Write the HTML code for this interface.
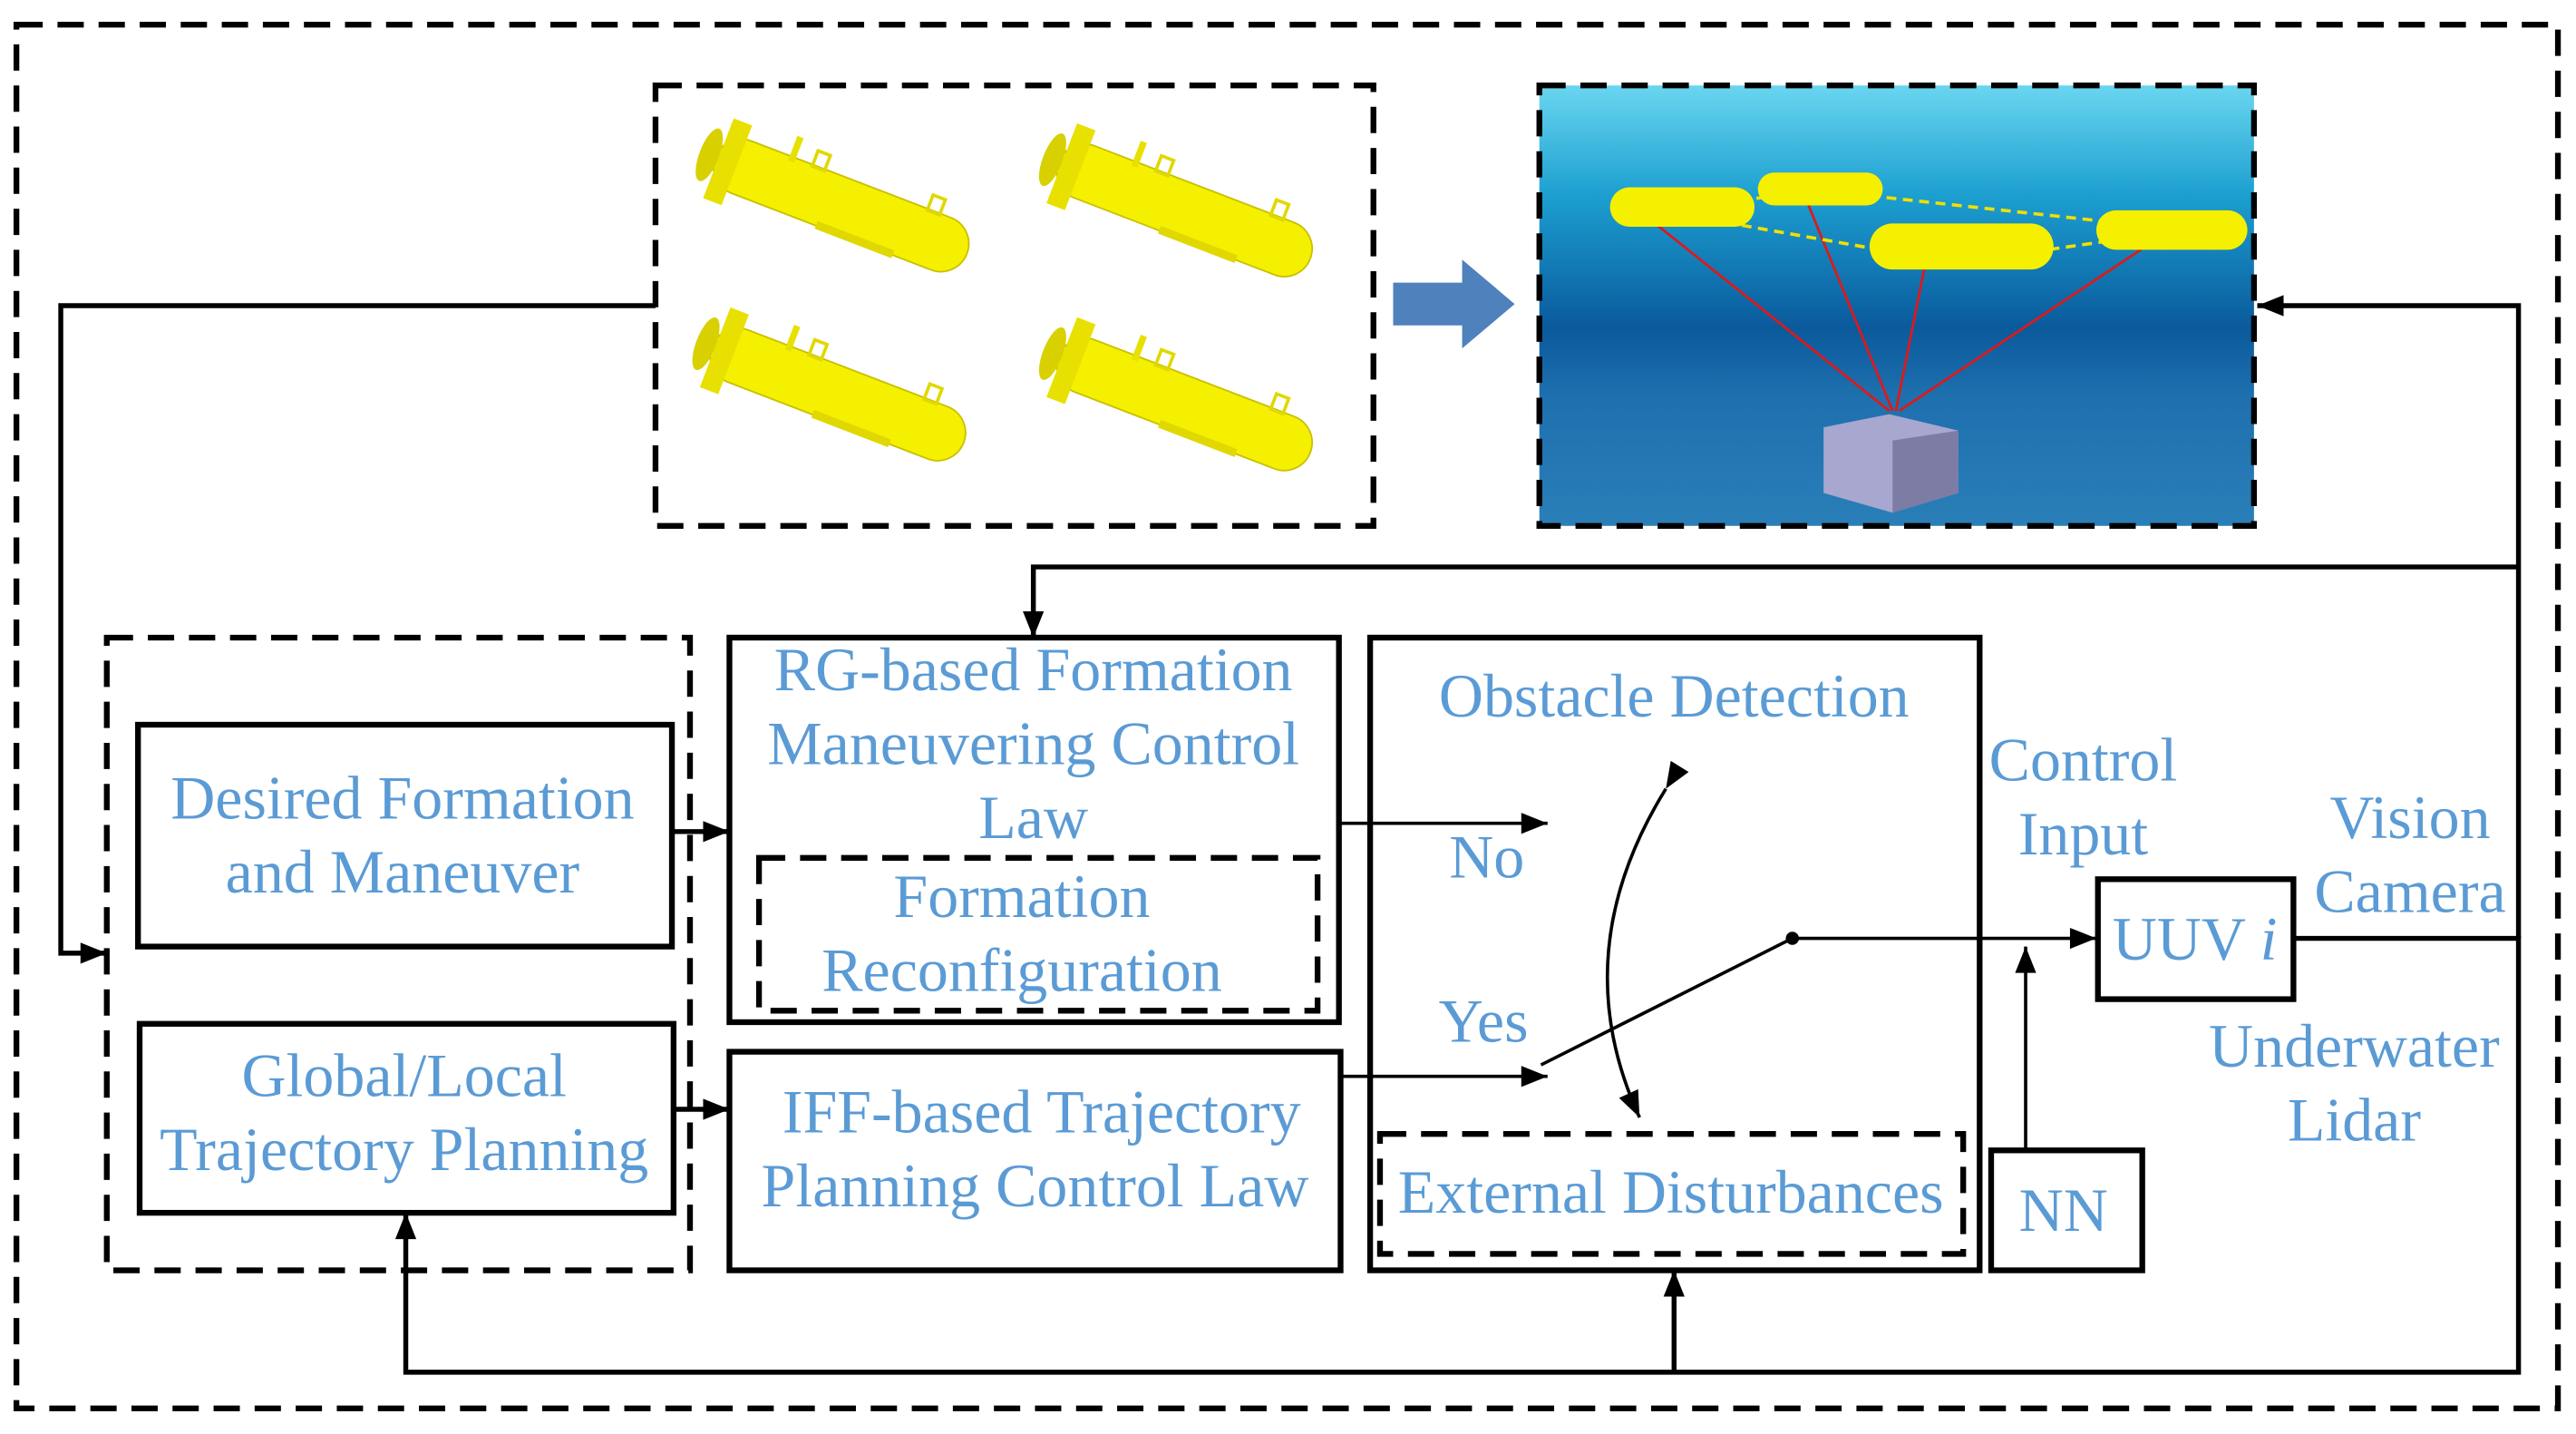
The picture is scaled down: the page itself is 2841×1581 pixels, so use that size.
<!DOCTYPE html>
<html><head><meta charset="utf-8"><style>
html,body{margin:0;padding:0;background:#fff}
svg{display:block}
text{font-family:"Liberation Serif",serif;fill:#5b9bd5;font-size:37.5px;text-anchor:middle}
</style></head><body>
<svg width="2841" height="1581" viewBox="0 0 1568 872.6" preserveAspectRatio="none" xmlns="http://www.w3.org/2000/svg">
<defs>
<marker id="b" viewBox="0 0 10 10" refX="10" refY="5" markerWidth="22" markerHeight="16" markerUnits="userSpaceOnUse" orient="auto"><path d="M0,1 L10,5 L0,9z" fill="#000"/></marker>
<linearGradient id="sea" x1="0" y1="0" x2="0" y2="1">
<stop offset="0" stop-color="#6ad6f0"/><stop offset="0.25" stop-color="#1c9fd0"/><stop offset="0.55" stop-color="#0a5a9c"/><stop offset="0.7" stop-color="#1e6fae"/><stop offset="1" stop-color="#2a7fb8"/></linearGradient>
<g id="uuv"><rect x="-82" y="-17" width="164" height="34" rx="17" fill="#f5f000" stroke="#c8c000" stroke-width="1"/><rect x="-80" y="-26" width="12" height="52" fill="#e8e000"/><rect x="-40" y="-30" width="4" height="16" fill="#e8e000"/><rect x="-25" y="-26" width="8" height="10" fill="none" stroke="#e0d800" stroke-width="2"/><rect x="50" y="-26" width="8" height="10" fill="none" stroke="#e0d800" stroke-width="2"/><rect x="-10" y="14" width="50" height="5" fill="#e0d800"/><ellipse cx="-86" cy="0" rx="6" ry="17" fill="#d8d000"/></g>
</defs>

<rect x="10" y="15" width="1547" height="842" fill="none" stroke="#000" stroke-width="3.5" stroke-dasharray="16,9"/>

<rect x="399" y="52" width="437" height="268" fill="none" stroke="#000" stroke-width="3.5" stroke-dasharray="16,9"/>
<use href="#uuv" transform="translate(512,125) rotate(21)"/>
<use href="#uuv" transform="translate(721,128) rotate(21)"/>
<use href="#uuv" transform="translate(510,240) rotate(21)"/>
<use href="#uuv" transform="translate(721,246) rotate(21)"/>

<path d="M848,172 L890,172 L890,158 L922,185 L890,212 L890,198 L848,198z" fill="#4f81bd"/>

<rect x="937" y="52" width="435" height="268" fill="url(#sea)"/>
<rect x="937" y="52" width="435" height="268" fill="none" stroke="#000" stroke-width="3.5" stroke-dasharray="16,9"/>
<g stroke="#e01818" stroke-width="1.5">
<line x1="1000" y1="130" x2="1150" y2="250"/><line x1="1098" y1="118" x2="1152" y2="250"/><line x1="1172" y1="160" x2="1154" y2="250"/><line x1="1306" y1="150" x2="1156" y2="250"/></g>
<path d="M1020,130 L1100,115 L1330,140 L1190,160z" fill="none" stroke="#f0e000" stroke-width="2" stroke-dasharray="6,4"/>
<g fill="#f5f000"><rect x="980" y="114" width="88" height="24" rx="12"/><rect x="1070" y="105" width="76" height="20" rx="10"/><rect x="1138" y="136" width="112" height="28" rx="14"/><rect x="1276" y="128" width="92" height="24" rx="12"/></g>
<path d="M1110,260 L1150,252 L1192,262 L1192,300 L1152,312 L1110,300z" fill="#a7a7cf"/>
<path d="M1152,268 L1192,262 L1192,300 L1152,312z" fill="#7c7ca4"/>

<g stroke="#000" stroke-width="3" fill="none">
<polyline points="399,186 37,186 37,580 65,580" marker-end="url(#b)"/>
<polyline points="1533,571 1533,186 1374,186" marker-end="url(#b)"/>
<polyline points="1533,345 629,345 629,388" marker-end="url(#b)"/>
<polyline points="1396,571 1533,571 1533,835 247,835 247,738" marker-end="url(#b)"/>
<line x1="1019" y1="835" x2="1019" y2="773" marker-end="url(#b)"/>
<line x1="409" y1="506" x2="444" y2="506" marker-end="url(#b)"/>
<line x1="410" y1="675" x2="444" y2="675" marker-end="url(#b)"/>
</g>
<g stroke="#000" stroke-width="2" fill="none">
<line x1="815" y1="501" x2="942" y2="501" marker-end="url(#b)"/>
<line x1="816" y1="655" x2="942" y2="655" marker-end="url(#b)"/>
<line x1="938" y1="648" x2="1091" y2="571"/>
<line x1="1091" y1="571" x2="1276" y2="571" marker-end="url(#b)"/>
<line x1="1233" y1="700" x2="1233" y2="576" marker-end="url(#b)"/>
<path d="M1014,480 Q952,580 998,680" marker-start="url(#b)" marker-end="url(#b)"/>
</g>
<circle cx="1091" cy="571" r="4" fill="#000"/>

<rect x="65" y="388" width="355" height="385" fill="none" stroke="#000" stroke-width="3.5" stroke-dasharray="16,9"/>
<rect x="84" y="441" width="325" height="135" fill="none" stroke="#000" stroke-width="3.5"/>
<text x="245" y="498">Desired Formation</text>
<text x="245" y="543">and Maneuver</text>
<rect x="85" y="623" width="325" height="115" fill="none" stroke="#000" stroke-width="3.5"/>
<text x="246" y="667">Global/Local</text>
<text x="246" y="712">Trajectory Planning</text>

<rect x="444" y="388" width="371" height="234" fill="none" stroke="#000" stroke-width="3.5"/>
<text x="629" y="420">RG-based Formation</text>
<text x="629" y="465">Maneuvering Control</text>
<text x="629" y="510">Law</text>
<rect x="462" y="522" width="340" height="93" fill="none" stroke="#000" stroke-width="3.5" stroke-dasharray="16,9"/>
<text x="622" y="558">Formation</text>
<text x="622" y="603">Reconfiguration</text>

<rect x="444" y="640" width="372" height="133" fill="none" stroke="#000" stroke-width="3.5"/>
<text x="634" y="689">IFF-based Trajectory</text>
<text x="630" y="734">Planning Control Law</text>

<rect x="834" y="388" width="371" height="385" fill="none" stroke="#000" stroke-width="3.5"/>
<text x="1019" y="436">Obstacle Detection</text>
<text x="905" y="534">No</text>
<text x="903" y="634">Yes</text>
<rect x="840" y="690" width="355" height="73" fill="none" stroke="#000" stroke-width="3.5" stroke-dasharray="16,9"/>
<text x="1017" y="738">External Disturbances</text>

<rect x="1212" y="700" width="92" height="73" fill="none" stroke="#000" stroke-width="3.5"/>
<text x="1256" y="749">NN</text>
<rect x="1277" y="535" width="119" height="73" fill="none" stroke="#000" stroke-width="3.5"/>
<text x="1336" y="584">UUV <tspan font-style="italic">i</tspan></text>

<text x="1268" y="475">Control</text>
<text x="1268" y="520">Input</text>
<text x="1467" y="510">Vision</text>
<text x="1467" y="555">Camera</text>
<text x="1433" y="649">Underwater</text>
<text x="1433" y="694">Lidar</text>
</svg>
</body></html>
